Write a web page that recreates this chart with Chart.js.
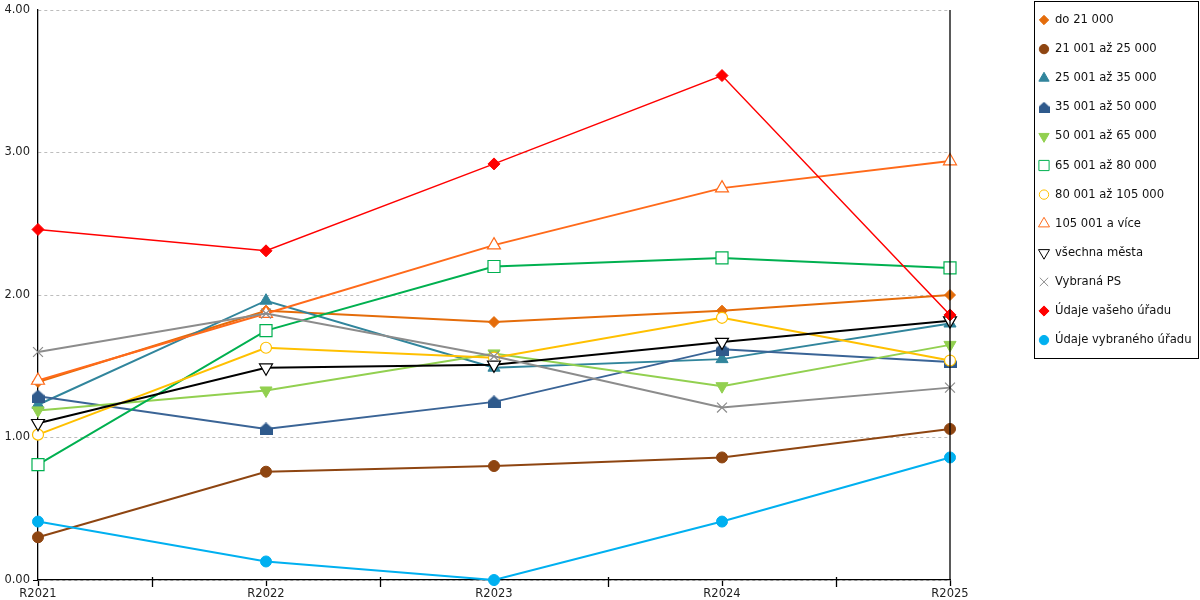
<!DOCTYPE html>
<html><head><meta charset="utf-8">
<script src="https://cdn.jsdelivr.net/npm/chart.js@4.4.1/dist/chart.umd.min.js"></script>
<style>html,body{margin:0;padding:0;background:#fff}#wrap{width:1200px;height:600px}</style>
</head><body><div id="wrap"><canvas id="c" width="1200" height="600"></canvas></div>
<script>
const categories = ['R2021','R2022','R2023','R2024','R2025'];
const seriesNames = ['do 21 000','21 001 až 25 000','25 001 až 35 000','35 001 až 50 000','50 001 až 65 000','65 001 až 80 000','80 001 až 105 000','105 001 a více','všechna města','Vybraná PS','Údaje vašeho úřadu','Údaje vybraného úřadu'];
const do21 = [1.39, 1.89, 1.81, 1.89, 2.00];
const s21_25 = [0.30, 0.76, 0.80, 0.86, 1.06];
const s25_35 = [1.23, 1.96, 1.49, 1.55, 1.80];
const s35_50 = [1.29, 1.06, 1.25, 1.62, 1.53];
const s50_65 = [1.19, 1.33, 1.59, 1.36, 1.65];
const s65_80 = [0.81, 1.75, 2.20, 2.26, 2.19];
const s80_105 = [1.02, 1.63, 1.56, 1.84, 1.54];
const s105 = [1.40, 1.87, 2.35, 2.75, 2.94];
const vsechna = [1.10, 1.49, 1.51, 1.67, 1.82];
const vybranaPS = [1.60, 1.87, 1.57, 1.21, 1.35];
const vaseho = [2.46, 2.31, 2.92, 3.54, 1.86];
const vybraneho = [0.41, 0.13, 0.00, 0.41, 0.86];
const yTicks = [0, 1, 2, 3, 4];

function houseImg(color, s){
  const c = document.createElement('canvas'); c.width = s; c.height = s;
  const g = c.getContext('2d'); g.fillStyle = color;
  g.beginPath(); g.moveTo(s/2,0); g.lineTo(s,s*0.45); g.lineTo(s,s); g.lineTo(0,s); g.lineTo(0,s*0.45); g.closePath(); g.fill();
  return c;
}
const house = houseImg('#2F5A8C', 13);
const houseSmall = houseImg('#2F5A8C', 11);

const styles = [
  {data:do21, color:'#E46C0A', ps:'rectRot', r:5.5, fill:true},
  {data:s21_25, color:'#8E4511', ps:'circle', r:5.5, fill:true},
  {data:s25_35, color:'#31859C', ps:'triangle', r:7, fill:true},
  {data:s35_50, color:'#3A6496', ps:house, r:6.5, fill:true, small:houseSmall},
  {data:s50_65, color:'#92D050', ps:'triangle', rot:180, r:7, fill:true},
  {data:s65_80, color:'#00B050', ps:'rect', r:8.5, fill:false},
  {data:s80_105, color:'#FFC000', ps:'circle', r:5.5, fill:false},
  {data:s105, color:'#FF6A1A', ps:'triangle', r:7.5, fill:false},
  {data:vsechna, color:'#000000', ps:'triangle', rot:180, r:7.5, fill:false},
  {data:vybranaPS, color:'#8C8C8C', ps:'crossRot', r:7, fill:false},
  {data:vaseho, color:'#FF0000', ps:'rectRot', r:6, fill:true},
  {data:vybraneho, color:'#00B0F0', ps:'circle', r:5.5, fill:true}
];

const datasets = styles.map((s,i)=>({
  label: seriesNames[i],
  data: s.data,
  borderColor: s.color,
  borderWidth: (i===10) ? 1.5 : 2,
  pointStyle: s.ps,
  pointRotation: s.rot || 0,
  pointRadius: s.r,
  pointHoverRadius: s.r,
  pointBackgroundColor: s.fill ? s.color : '#ffffff',
  pointBorderColor: s.color,
  pointBorderWidth: s.fill ? 1 : 1.2,
  tension: 0,
  clip: false,
  fill: false,
  order: 12 - i
}));

const extras = {
  id:'extras',
  afterDraw(chart){
    const ctx = chart.ctx, a = chart.chartArea, xs = chart.scales.x;
    ctx.save();
    ctx.strokeStyle = '#000'; ctx.lineWidth = 1.3;
    ctx.beginPath(); ctx.moveTo(a.right, a.top); ctx.lineTo(a.right, a.bottom); ctx.stroke();
    for (let i=0;i<categories.length-1;i++){
      const x = Math.round((xs.getPixelForValue(i)+xs.getPixelForValue(i+1))/2)+0.5;
      ctx.beginPath(); ctx.moveTo(x, a.bottom-3); ctx.lineTo(x, a.bottom+7); ctx.stroke();
    }
    // legend
    const lx = 1034.5, ly = 1.5, lw = 164, lh = 357;
    ctx.lineWidth = 1; ctx.strokeStyle = '#000';
    ctx.strokeRect(lx, ly, lw, lh);
    ctx.font = '11.6px "DejaVu Sans"';
    ctx.textBaseline = 'middle'; ctx.textAlign = 'left';
    styles.forEach((s,i)=>{
      const y = 20 + 29.1*i;
      ctx.save();
      ctx.fillStyle = s.fill ? s.color : '#fff';
      ctx.strokeStyle = s.color;
      ctx.lineWidth = 1;
      Chart.helpers.drawPoint(ctx, {pointStyle: s.small || s.ps, rotation: s.rot||0, radius: s.r*0.85, borderWidth: 1}, 1044, y);
      ctx.restore();
      ctx.fillStyle = '#111';
      ctx.fillText(seriesNames[i], 1055, y);
    });
    ctx.restore();
  }
};

new Chart(document.getElementById('c'), {
  type:'line',
  data:{labels:categories, datasets},
  options:{
    responsive:false, animation:false, devicePixelRatio:1,
    layout:{padding:{top:10,right:250,bottom:0,left:0}},
    plugins:{legend:{display:false}, tooltip:{enabled:false}},
    scales:{
      x:{
        afterFit(s){ s.height = 20; },
        grid:{display:true, drawOnChartArea:false, drawTicks:true, tickLength:6, tickColor:'#000', tickWidth:1.3},
        border:{display:true, color:'#000', width:1.3},
        ticks:{font:{family:'DejaVu Sans', size:11.5}, color:'#222', padding:1, maxRotation:0, autoSkip:false}
      },
      y:{
        min:0, max:4,
        afterFit(s){ s.width = 38; },
        afterBuildTicks(s){ s.ticks = yTicks.map(v=>({value:v})); },
        grid:{color:'#bdbdbd', lineWidth:1, drawTicks:true, tickLength:5,
          tickColor:(c)=> (c.tick && c.tick.value===0) ? '#000' : 'rgba(0,0,0,0)'},
        border:{display:true, color:'#000', width:1.3, dash:[3,3]},
        ticks:{font:{family:'DejaVu Sans', size:11.5}, color:'#222', padding:3,
          callback:(v)=>Number(v).toFixed(2)}
      }
    }
  },
  plugins:[extras]
});
</script></body></html>
